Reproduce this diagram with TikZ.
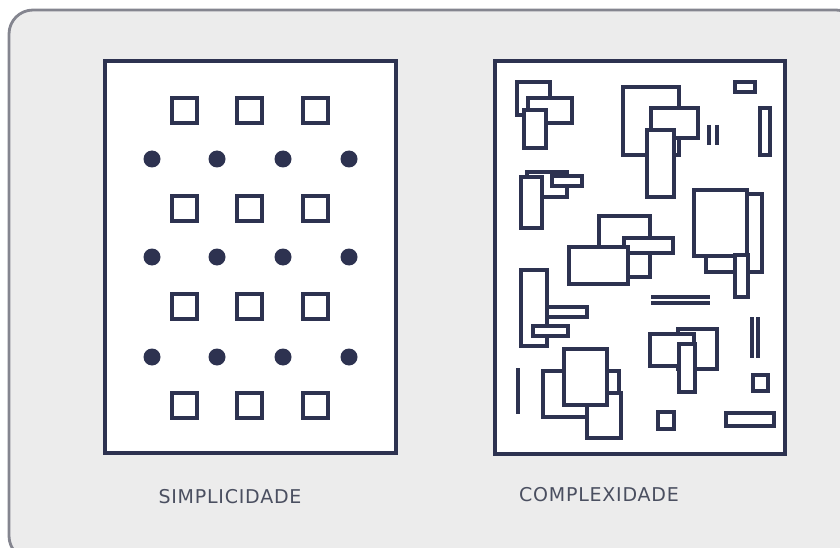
\documentclass[tikz,border=0pt]{standalone}
\usepackage{fontspec}
\setmainfont{DejaVu Sans}
\newfontfamily\capfont[LetterSpace=4]{DejaVu Sans}
\definecolor{ink}{HTML}{2D3250}
\definecolor{frame}{HTML}{84858F}
\definecolor{paper}{HTML}{ECECEC}
\definecolor{caption}{HTML}{4A4F60}
\begin{document}
\begin{tikzpicture}[x=1pt, y=-1pt,
		panel/.style={draw=ink, fill=white, line width=3.2pt},
		blk/.style={draw=ink, fill=white, line width=3.2pt},
		bar/.style={draw=ink, line width=3.2pt},
		dot/.style={fill=ink},
		caption/.style={text=caption, font=\capfont\fontsize{19}{22}\selectfont}]
	\useasboundingbox (0,0) rectangle (840,548);
	\draw[frame, fill=paper, line width=2.8pt, rounded corners=24pt] (9,10) rectangle (860,560);

	% simplicidade
	\draw[panel] (105,61) rectangle (396,453);
	\foreach \y in {98,196,294,393}
		\foreach \x in {172,237,303}
			\draw[blk] (\x,\y) rectangle ++(25,25);
	\foreach \y in {159,257,357}
		\foreach \x in {152,217,283,349}
			\fill[dot] (\x,\y) circle (8.5);
	\node[caption] (simples) at (230,497) {SIMPLICIDADE};

	% complexidade
	\draw[panel] (495,61) rectangle (785,454);
	\draw[blk] (517,82) rectangle (550,115);
	\draw[blk] (528,98) rectangle (572,123);
	\draw[blk] (524,110) rectangle (546,148);
	\draw[blk] (623,87) rectangle (679,155);
	\draw[blk] (651,108) rectangle (698,138);
	\draw[blk] (647,130) rectangle (674,197);
	\draw[blk] (735,82) rectangle (755,92);
	\draw[blk] (760,108) rectangle (770,155);
	\draw[bar] (709,125) -- (709,145) (717,125) -- (717,145);
	\draw[blk] (527,172) rectangle (567,197);
	\draw[blk] (521,177) rectangle (542,228);
	\draw[blk] (552,176) rectangle (582,186);
	\draw[blk] (599,216) rectangle (650,277);
	\draw[blk] (624,238) rectangle (673,253);
	\draw[blk] (569,247) rectangle (628,284);
	\draw[blk] (725,194) rectangle (762,272);
	\draw[blk] (706,240) rectangle (745,272);
	\draw[blk] (694,190) rectangle (747,256);
	\draw[blk] (735,255) rectangle (748,297);
	\draw[bar] (651,297) -- (710,297) (651,303) -- (710,303);
	\draw[blk] (521,270) rectangle (547,346);
	\draw[blk] (547,307) rectangle (587,317);
	\draw[blk] (533,326) rectangle (568,336);
	\draw[bar] (518,368) -- (518,414);
	\draw[blk] (543,371) rectangle (587,417);
	\draw[blk] (590,371) rectangle (619,400);
	\draw[blk] (587,393) rectangle (621,438);
	\draw[blk] (564,349) rectangle (607,405);
	\draw[blk] (678,329) rectangle (717,369);
	\draw[blk] (650,334) rectangle (694,366);
	\draw[blk] (679,344) rectangle (695,392);
	\draw[bar] (752,317) -- (752,358) (758,317) -- (758,358);
	\draw[blk] (753,375) rectangle (768,391);
	\draw[blk] (658,412) rectangle (674,429);
	\draw[blk] (726,413) rectangle (774,426);
	\node[caption] (complexo) at (599,495) {COMPLEXIDADE};
\end{tikzpicture}
\end{document}
